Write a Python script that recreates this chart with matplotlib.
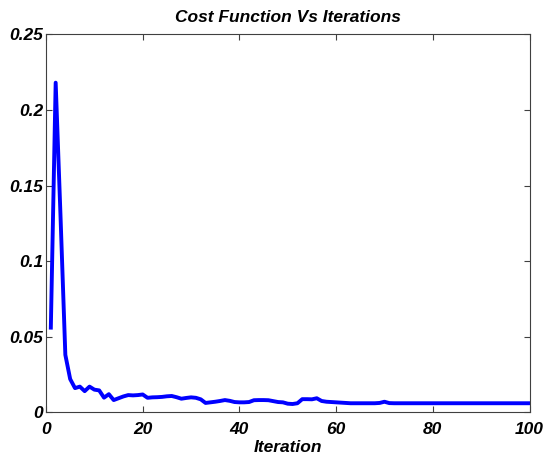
import numpy as np
import matplotlib
matplotlib.use("Agg")
import matplotlib.pyplot as plt

# cost per iteration
cost_head = [
    0.056, 0.218, 0.130, 0.038, 0.022, 0.016, 0.017, 0.014, 0.017, 0.015,
    0.0145, 0.0097, 0.012, 0.0081, 0.0093, 0.0105, 0.0114, 0.0112, 0.0114, 0.0118,
    0.0096, 0.0099, 0.0100, 0.0102, 0.0106, 0.0108, 0.0100, 0.0090, 0.0095, 0.0099,
    0.0096, 0.0086, 0.0062, 0.0066, 0.0070, 0.0075, 0.0081, 0.0076, 0.0068, 0.0066,
    0.0066, 0.0068, 0.0080, 0.0081, 0.0081, 0.0080, 0.0074, 0.0068, 0.0066, 0.0057,
    0.0055, 0.0060, 0.0087, 0.0087, 0.0086, 0.0093, 0.0075, 0.0070, 0.0068, 0.0066,
    0.0064, 0.0062, 0.0060, 0.0060, 0.0060, 0.0060, 0.0060, 0.0060, 0.0062, 0.0070,
    0.0061, 0.0060, 0.0060, 0.0060, 0.0060, 0.0060, 0.0060, 0.0060, 0.0060, 0.0060,
    0.0060, 0.0060, 0.0060, 0.0060, 0.0060, 0.0060, 0.0060, 0.0060, 0.0060, 0.0060,
    0.0060, 0.0060, 0.0060, 0.0060, 0.0060, 0.0060, 0.0060, 0.0060, 0.0060, 0.0060,
]
iterations = list(range(1, len(cost_head) + 1))

x_ticks = [0, 20, 40, 60, 80, 100]
y_ticks = [0, 0.05, 0.1, 0.15, 0.2, 0.25]
y_tick_labels = ["0", "0.05", "0.1", "0.15", "0.2", "0.25"]

plt.rcParams["font.family"] = ["Liberation Sans", "DejaVu Sans"]

fig = plt.figure(figsize=(5.45, 4.59), dpi=100)
ax = fig.add_axes([0.0844, 0.1017, 0.8872, 0.8236])

ax.plot(iterations, cost_head, color="#0000ff", linewidth=2.8)

ax.set_xlim(0, 100)
ax.set_ylim(0, 0.25)
ax.set_xticks(x_ticks)
ax.set_xticklabels([str(t) for t in x_ticks])
ax.set_yticks(y_ticks)
ax.set_yticklabels(y_tick_labels)

ax.tick_params(direction="in", length=4, width=0.8, color="#404040",
               top=True, right=True, labelsize=12.5)
ax.tick_params(axis="x", pad=7)
ax.tick_params(axis="y", pad=2)
for lbl in ax.get_xticklabels() + ax.get_yticklabels():
    lbl.set_fontweight("bold")
    lbl.set_fontstyle("italic")

for spine in ax.spines.values():
    spine.set_color("#404040")
    spine.set_linewidth(0.8)

ax.set_title("Cost Function Vs Iterations", fontsize=12.5, fontweight="bold",
             fontstyle="italic", pad=9)
ax.set_xlabel("Iteration", fontsize=12.5, fontweight="bold", fontstyle="italic",
              labelpad=2)

fig.savefig("out.png", dpi=100)
